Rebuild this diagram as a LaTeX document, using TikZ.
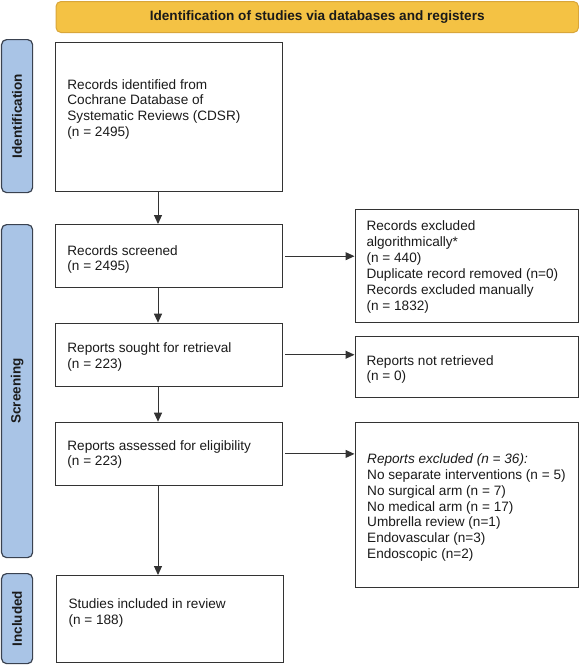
\documentclass[tikz,border=0pt]{standalone}
\usepackage{fontspec}
\setmainfont{Liberation Sans}
\usetikzlibrary{arrows.meta}
\definecolor{hdrfill}{HTML}{F4C244}
\definecolor{hdrline}{HTML}{D9A63A}
\definecolor{sidefill}{HTML}{A9C4E6}
\definecolor{sideline}{HTML}{3A4250}
\definecolor{boxline}{HTML}{333333}
\definecolor{txtcol}{HTML}{1A1A1A}
\tikzset{
  hdrbox/.style={draw=hdrline, fill=hdrfill, line width=1pt, rounded corners=5pt, anchor=north west, inner sep=0pt,
    font=\fontsize{13.6}{16}\selectfont\bfseries, text=txtcol},
  sidebox/.style={draw=sideline, fill=sidefill, line width=1.2pt, rounded corners=5pt, anchor=north west, inner sep=0pt, minimum width=31pt},
  sidelabel/.style={rotate=90, font=\fontsize{13.5}{16}\selectfont\bfseries, text=txtcol, inner sep=0pt},
  flowbox/.style={draw=boxline, line width=1.1pt, anchor=north west, inner sep=0pt},
  boxtext/.style={anchor=north west, inner sep=0pt, align=left, font=\fontsize{13.6}{15.9}\selectfont, text=txtcol},
  arr/.style={draw=boxline, line width=1pt, -{Triangle[length=9pt,width=8pt]}}
}
\begin{document}
\begin{tikzpicture}[x=1pt,y=-1pt]
\useasboundingbox (0,0) rectangle (579,665);
% header
\node[hdrbox, minimum width=522.5pt, minimum height=31pt] (hdr) at (55.5,1) {Identification of studies via databases and registers};
% side bars
\node[sidebox, minimum height=153pt] (sid) at (1,39) {};
\node[sidelabel] (sidl) at (sid.center) {Identification};
\node[sidebox, minimum height=333pt] (scr) at (1,224) {};
\node[sidelabel] (scrl) at (scr.center) {Screening};
\node[sidebox, minimum height=90pt] (inc) at (1,573) {};
\node[sidelabel] (incl) at (inc.center) {Included};
% left column boxes
\node[flowbox, minimum width=226.5pt, minimum height=148.7pt] (b1) at (55,42) {};
\node[boxtext] (t1) at (67.2,79) {Records identified from\\Cochrane Database of\\Systematic Reviews (CDSR)\\(n = 2495)};
\node[flowbox, minimum width=226.5pt, minimum height=63.3pt] (b2) at (55,224) {};
\node[boxtext] (t2) at (67.2,245) {Records screened\\(n = 2495)};
\node[flowbox, minimum width=226.5pt, minimum height=63pt] (b3) at (55,322.7) {};
\node[boxtext] (t3) at (67.2,342.5) {Reports sought for retrieval\\(n = 223)};
\node[flowbox, minimum width=226.5pt, minimum height=63.3pt] (b4) at (55,421.7) {};
\node[boxtext] (t4) at (67.2,440) {Reports assessed for eligibility\\(n = 223)};
\node[flowbox, minimum width=227pt, minimum height=86.7pt] (b5) at (55.7,575) {};
\node[boxtext] (t5) at (68.3,598.3) {Studies included in review\\(n = 188)};
% right column boxes
\node[flowbox, minimum width=223.5pt, minimum height=112.4pt] (e1) at (354.5,209.3) {};
\node[boxtext] (et1) at (366.4,220.7) {Records excluded\\algorithmically*\\(n = 440)\\Duplicate record removed (n=0)\\Records excluded manually\\(n = 1832)};
\node[flowbox, minimum width=223.5pt, minimum height=61.3pt] (e2) at (354.5,336) {};
\node[boxtext] (et2) at (366.4,355) {Reports not retrieved\\(n = 0)};
\node[flowbox, minimum width=223.5pt, minimum height=165.6pt] (e3) at (354.5,421.7) {};
\node[boxtext] (et3) at (367,453.3) {\textit{Reports excluded (n = 36):}\\No separate interventions (n = 5)\\No surgical arm (n = 7)\\No medical arm (n = 17)\\Umbrella review (n=1)\\Endovascular (n=3)\\Endoscopic (n=2)};
% connectors
\coordinate (ax) at (158,0);
\draw[arr] (b1.south -| ax) -- (b2.north -| ax);
\draw[arr] (b2.south -| ax) -- (b3.north -| ax);
\draw[arr] (b3.south -| ax) -- (b4.north -| ax);
\draw[arr] (b4.south -| ax) -- (b5.north -| ax);
\draw[arr] ([xshift=2.5pt]b2.east) -- (e1.west |- b2.east);
\draw[arr] ([xshift=2.5pt]b3.east) -- (e2.west |- b3.east);
\draw[arr] ([xshift=2.5pt]b4.east) -- (e3.west |- b4.east);
\end{tikzpicture}
\end{document}
